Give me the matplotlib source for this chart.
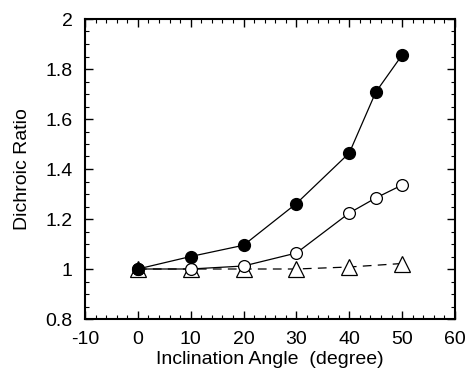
import matplotlib
matplotlib.use("Agg")
import matplotlib.pyplot as plt
from matplotlib.ticker import MultipleLocator

plt.rcParams["font.family"] = ["Liberation Sans", "DejaVu Sans"]
plt.rcParams["axes.unicode_minus"] = False

# data
angle_filled = [0, 10, 20, 30, 40, 45, 50]
ratio_filled = [1.0, 1.05, 1.095, 1.262, 1.464, 1.707, 1.856]

angle_open = [0, 10, 20, 30, 40, 45, 50]
ratio_open = [1.0, 1.0, 1.012, 1.064, 1.224, 1.284, 1.336]

angle_tri = [0, 10, 20, 30, 40, 50]
ratio_tri = [1.0, 1.0, 1.0, 1.0, 1.008, 1.022]

fig = plt.figure(figsize=(4.73, 3.71), dpi=100)
ax = fig.add_axes([85 / 473, 1 - 319 / 371, (455 - 85) / 473, (319 - 19) / 371])

ax.plot(angle_tri, ratio_tri, color="black", lw=0.9, ls=(0, (7, 5)),
        marker="^", ms=11, mfc="white", mec="black", mew=0.9, zorder=2)
ax.plot(angle_open, ratio_open, color="black", lw=0.9,
        marker="o", ms=8.5, mfc="white", mec="black", mew=0.9, zorder=3)
ax.plot(angle_filled, ratio_filled, color="black", lw=0.9,
        marker="o", ms=8.5, mfc="black", mec="black", zorder=4)

ax.set_xlim(-10, 60)
ax.set_ylim(0.8, 2.0)
ax.xaxis.set_major_locator(MultipleLocator(10))
ax.xaxis.set_minor_locator(MultipleLocator(2))
ax.yaxis.set_minor_locator(MultipleLocator(0.05))
ax.set_yticks([0.8, 1.0, 1.2, 1.4, 1.6, 1.8, 2.0])
ax.set_yticklabels(["0.8", "1", "1.2", "1.4", "1.6", "1.8", "2"])

ax.tick_params(which="both", direction="in", top=True, right=True, labelsize=14)
ax.tick_params(which="major", length=5.5, width=1, pad=9)
ax.tick_params(which="minor", length=3, width=0.8)
for s in ax.spines.values():
    s.set_linewidth(1.5)

ax.set_xlabel("Inclination Angle  (degree)", fontsize=14, labelpad=2)
ax.set_ylabel("Dichroic Ratio", fontsize=14, labelpad=10)

fig.savefig("out.png", dpi=100)
